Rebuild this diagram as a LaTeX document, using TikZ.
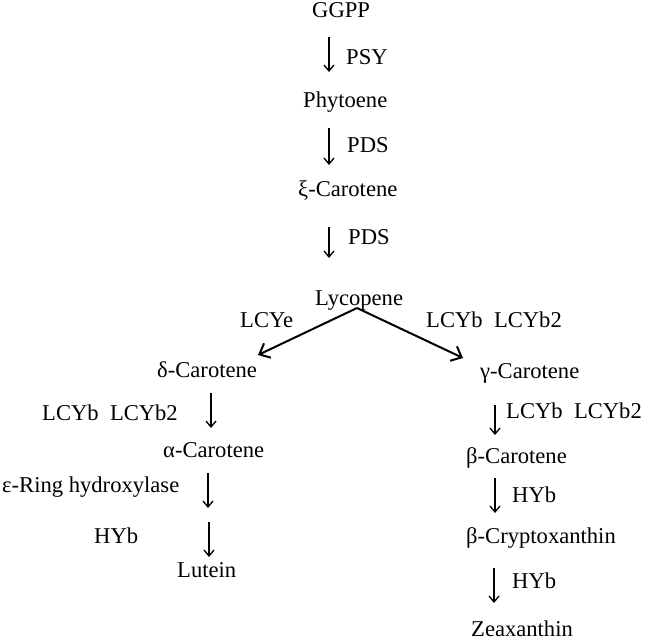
\documentclass[tikz,border=0pt]{standalone}
\usepackage{fontspec}
\setmainfont{Liberation Serif}
\usetikzlibrary{arrows.meta}
\tikzset{
  lbl/.style={anchor=base west, inner sep=0pt, font=\fontsize{22.6}{24}\selectfont},
  varrow/.style={line width=1.3pt, -{Straight Barb[length=6pt,width=10pt]}},
  barrow/.style={line width=2pt, -{Straight Barb[length=9pt,width=16pt]}}
}
\begin{document}
\begin{tikzpicture}[x=1pt,y=-1pt]
\useasboundingbox (0,0) rectangle (646,641);
% main chain
\node[lbl] (ggpp) at (312,17) {GGPP};
\node[lbl] (psy) at (346,64) {PSY};
\node[lbl] (phy) at (303,107) {Phytoene};
\node[lbl] (pds1) at (347,152) {PDS};
\node[lbl] (xi) at (298,196) {ξ-Carotene};
\node[lbl] (pds2) at (348,244) {PDS};
\node[lbl] (lyc) at (315,305) {Lycopene};
\node[lbl] (lcye) at (240,327) {LCYe};
\node[lbl] (lcyb1) at (426,327) {LCYb\ \ LCYb2};
% left branch
\node[lbl] (delta) at (157,377) {δ-Carotene};
\node[lbl] (lcyb2) at (42,420) {LCYb\ \ LCYb2};
\node[lbl] (alpha) at (163,457) {α-Carotene};
\node[lbl] (ering) at (2,492) {ε-Ring hydroxylase};
\node[lbl] (hyb1) at (94,543) {HYb};
\node[lbl] (lut) at (177,577) {Lutein};
% right branch
\node[lbl] (gamma) at (480,378) {γ-Carotene};
\node[lbl] (lcyb3) at (506,418) {LCYb\ \ LCYb2};
\node[lbl] (beta) at (466,463) {β-Carotene};
\node[lbl] (hyb2) at (512,502) {HYb};
\node[lbl] (bcry) at (466,543) {β-Cryptoxanthin};
\node[lbl] (hyb3) at (512,588) {HYb};
\node[lbl] (zea) at (471,636.5) {Zeaxanthin};
% arrow end points
\coordinate (a1s) at (329,37);  \coordinate (a1e) at (329,72);
\coordinate (a2s) at (329,128); \coordinate (a2e) at (329,165);
\coordinate (a3s) at (329,227); \coordinate (a3e) at (329,258);
\coordinate (apex) at (357,308);
\coordinate (bl) at (258,355);  \coordinate (br) at (463,358);
\coordinate (l1s) at (211,393); \coordinate (l1e) at (211,428);
\coordinate (l2s) at (208,473); \coordinate (l2e) at (208,508);
\coordinate (l3s) at (209,522); \coordinate (l3e) at (209,557);
\coordinate (r1s) at (495,405); \coordinate (r1e) at (495,435);
\coordinate (r2s) at (495,478); \coordinate (r2e) at (495,513);
\coordinate (r3s) at (494,568); \coordinate (r3e) at (494,603);
\draw[varrow] (a1s) -- (a1e);
\draw[varrow] (a2s) -- (a2e);
\draw[varrow] (a3s) -- (a3e);
\draw[barrow] (apex) -- (bl);
\draw[barrow] (apex) -- (br);
\draw[varrow] (l1s) -- (l1e);
\draw[varrow] (l2s) -- (l2e);
\draw[varrow] (l3s) -- (l3e);
\draw[varrow] (r1s) -- (r1e);
\draw[varrow] (r2s) -- (r2e);
\draw[varrow] (r3s) -- (r3e);
\end{tikzpicture}
\end{document}
